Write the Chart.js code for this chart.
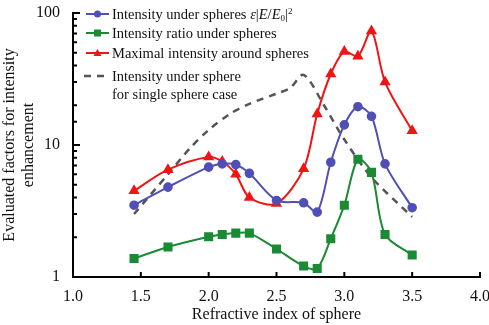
<!DOCTYPE html>
<html lang="en">

<head>
    <meta charset="UTF-8">
    <title>Intensity enhancement</title>
    <style>
        body { margin: 0; background: #fff; }
        .box { position: relative; width: 489px; height: 325px; }
        .legenda { position: absolute; left: 0; top: 0; font-family: "Liberation Serif", "DejaVu Serif", serif; font-size: 14.5px; color: #111; }
        .item { position: absolute; left: 84px; height: 18px; line-height: 18px; white-space: nowrap; }
        .item svg { position: absolute; left: 0; top: 0; }
        .item span { position: absolute; left: 28px; top: 0; }
        sub { font-size: 9px; vertical-align: -2px; line-height: 0; }
        sup { font-size: 9px; vertical-align: 5px; line-height: 0; }
    </style>
    <script src="https://cdn.jsdelivr.net/npm/chart.js"></script>
</head>

<body>
    <div class="box">
        <canvas id="grafico" width="489" height="325"></canvas>
        <div class="legenda">
            <div class="item" style="top:5px">
                <svg width="26" height="18"><line x1="2" y1="9" x2="25" y2="9" stroke="#4f4fb5" stroke-width="2"/><circle cx="13.5" cy="9" r="3.5" fill="#4f4fb5"/></svg>
                <span>Intensity under spheres <i>ε</i>|<i>E</i>/<i>E</i><sub>0</sub>|<sup>2</sup></span>
            </div>
            <div class="item" style="top:24px">
                <svg width="26" height="18"><line x1="2" y1="9" x2="25" y2="9" stroke="#1b8a34" stroke-width="2"/><rect x="10" y="5.5" width="7" height="7" fill="#1b8a34"/></svg>
                <span>Intensity ratio under spheres</span>
            </div>
            <div class="item" style="top:44px">
                <svg width="26" height="18"><line x1="2" y1="9" x2="25" y2="9" stroke="#f01414" stroke-width="2"/><polygon points="13.5,5 17.5,12 9.5,12" fill="#f01414"/></svg>
                <span>Maximal intensity around spheres</span>
            </div>
            <div class="item" style="top:67px">
                <svg width="26" height="18"><line x1="0" y1="9" x2="26" y2="9" stroke="#555" stroke-width="2.5" stroke-dasharray="7,6"/></svg>
                <span>Intensity under sphere</span>
            </div>
            <div class="item" style="top:85px">
                <span>for single sphere case</span>
            </div>
        </div>
    </div>

    <script>
        // indice de refracao (eixo x)
        const indices = [1.45, 1.7, 2.0, 2.1, 2.2, 2.3, 2.5, 2.7, 2.8, 2.9, 3.0, 3.1, 3.2, 3.3, 3.5];

        const intensidadeSob = [3.5, 4.8, 6.8, 7.2, 7.1, 6.1, 3.8, 3.65, 3.1, 7.4, 14.2, 19.5, 16.5, 7.2, 3.35];
        const razaoSob = [1.38, 1.69, 2.02, 2.1, 2.15, 2.15, 1.63, 1.21, 1.16, 1.95, 3.5, 7.8, 6.2, 2.1, 1.47];
        const intensidadeMaxima = [4.5, 6.5, 8.1, 7.5, 6.0, 4.0, 3.6, 6.6, 17.2, 34.5, 51, 47, 73, 30, 12.8];

        // curva tracejada (caso de uma esfera)
        const indicesUnica = [1.45, 1.7, 1.86, 2.0, 2.16, 2.3, 2.5, 2.6, 2.7, 2.85, 3.0, 3.2, 3.5];
        const esferaUnica = [3.0, 6.0, 9.4, 13, 17.3, 20.5, 24.5, 27, 34, 20, 11, 5.7, 2.85];

        const ticksX = [1.0, 1.5, 2.0, 2.5, 3.0, 3.5, 4.0];
        const ticksY = [1, 10, 100];

        function pares(xs, ys) {
            const lista = [];
            for (let i = 0; i < xs.length; i++) {
                lista.push({ x: xs[i], y: ys[i] });
            }
            return lista;
        }

        const fonte = { family: '"Liberation Serif", "DejaVu Serif", serif', size: 16 };

        // marcas de escala viradas para dentro
        const marcasInternas = {
            id: 'marcasInternas',
            afterDraw(chart) {
                const ctx = chart.ctx;
                const x = chart.scales.x;
                const y = chart.scales.y;
                ctx.save();
                ctx.strokeStyle = '#000';
                ctx.lineWidth = 2;
                ctx.beginPath();
                for (const t of ticksX) {
                    const px = x.getPixelForValue(t);
                    ctx.moveTo(px, x.top);
                    ctx.lineTo(px, x.top - 5);
                }
                for (const t of y.ticks) {
                    const py = y.getPixelForValue(t.value);
                    const tam = ticksY.includes(t.value) ? 7 : 4;
                    ctx.moveTo(y.right, py);
                    ctx.lineTo(y.right + tam, py);
                }
                ctx.stroke();
                ctx.restore();
            }
        };

        new Chart(document.getElementById('grafico'), {
            type: 'line',
            data: {
                datasets: [
                    {
                        label: 'Intensity under spheres',
                        data: pares(indices, intensidadeSob),
                        borderColor: '#4f4fb5',
                        backgroundColor: '#4f4fb5',
                        borderWidth: 2,
                        pointStyle: 'circle',
                        pointRadius: 3.8,
                        tension: 0.3
                    },
                    {
                        label: 'Intensity ratio under spheres',
                        data: pares(indices, razaoSob),
                        borderColor: '#1b8a34',
                        backgroundColor: '#1b8a34',
                        borderWidth: 2,
                        pointStyle: 'rect',
                        pointRadius: 5,
                        tension: 0.3
                    },
                    {
                        label: 'Maximal intensity around spheres',
                        data: pares(indices, intensidadeMaxima),
                        borderColor: '#f01414',
                        backgroundColor: '#f01414',
                        borderWidth: 2,
                        pointStyle: 'triangle',
                        pointRadius: 4.5,
                        tension: 0.3
                    },
                    {
                        label: 'Intensity under sphere for single sphere case',
                        data: pares(indicesUnica, esferaUnica),
                        borderColor: '#555555',
                        borderWidth: 2.5,
                        borderDash: [7, 6],
                        pointRadius: 0,
                        tension: 0.3
                    }
                ]
            },
            options: {
                responsive: false,
                animation: false,
                layout: { padding: { top: 13, right: 9, left: 0, bottom: 0 } },
                plugins: {
                    legend: { display: false },
                    tooltip: { enabled: false }
                },
                scales: {
                    x: {
                        type: 'linear',
                        min: 1,
                        max: 4,
                        grid: { display: false },
                        border: { display: true, color: '#000', width: 2 },
                        afterBuildTicks: function (escala) {
                            escala.ticks = ticksX.map(function (v) { return { value: v }; });
                        },
                        afterFit: function (escala) {
                            escala.height = 48;
                            escala.paddingLeft = 0;
                            escala.paddingRight = 0;
                        },
                        ticks: {
                            color: '#111',
                            font: fonte,
                            padding: 2,
                            maxRotation: 0,
                            callback: function (v) { return Number(v).toFixed(1); }
                        },
                        title: {
                            display: true,
                            text: 'Refractive index of sphere',
                            color: '#111',
                            font: fonte,
                            padding: { top: 0, bottom: 1 }
                        }
                    },
                    y: {
                        type: 'logarithmic',
                        min: 1,
                        max: 100,
                        grid: { display: false },
                        border: { display: true, color: '#000', width: 2 },
                        afterFit: function (escala) {
                            escala.width = 73;
                            escala.paddingTop = 0;
                            escala.paddingBottom = 0;
                        },
                        ticks: {
                            color: '#111',
                            font: fonte,
                            padding: 5,
                            autoSkip: false,
                            callback: function (v) { return ticksY.includes(v) ? String(v) : ''; }
                        },
                        title: {
                            display: true,
                            text: ['Evaluated factors for intensity', 'enhancement'],
                            color: '#111',
                            font: fonte,
                            padding: { top: 0, bottom: 0 }
                        }
                    }
                }
            },
            plugins: [marcasInternas]
        });
    </script>
</body>

</html>
